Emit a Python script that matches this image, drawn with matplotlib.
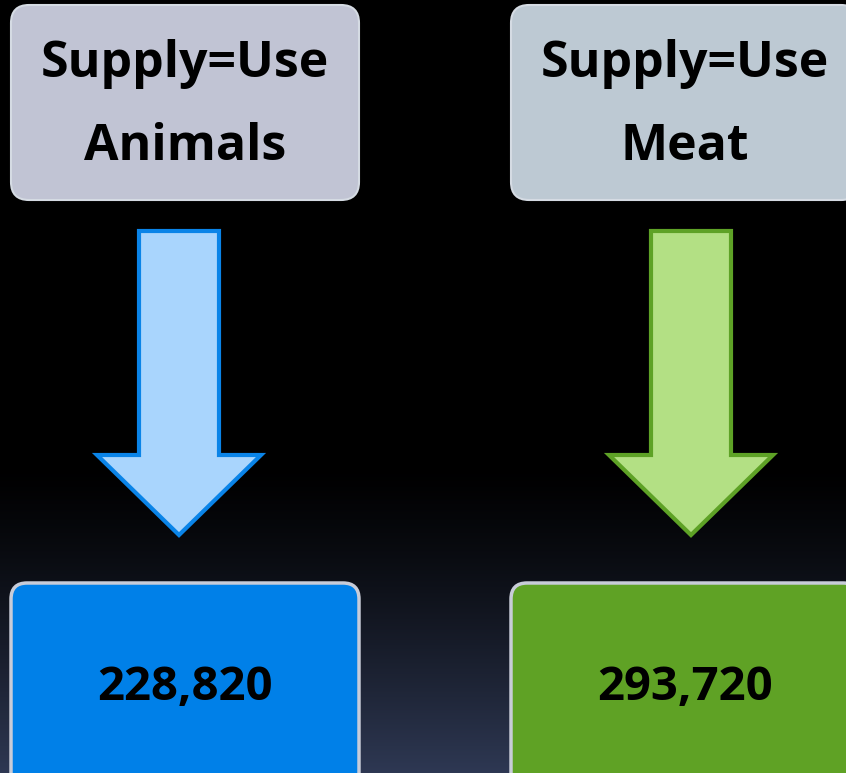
import matplotlib.pyplot as plt
from matplotlib.patches import FancyBboxPatch, Polygon
import numpy as np

title_top = ['Supply=Use', 'Supply=Use']
title_bottom = ['Animals', 'Meat']
totals = [228820, 293720]
head_colors = ['#c1c4d4', '#bdc9d3']
arrow_fill = ['#a9d5fd', '#b3e084']
arrow_edge = ['#0a84e8', '#5ea226']
total_colors = ['#0080e8', '#5fa225']

W, H = 846, 773
fig = plt.figure(figsize=(W / 100, H / 100), dpi=100)
ax = fig.add_axes([0, 0, 1, 1])
ax.set_xlim(0, W)
ax.set_ylim(H, 0)
ax.axis('off')

# background: black at top, fading to dark navy at the bottom
rows = np.linspace(0, 1, 400)
t = np.clip((rows - 0.6) / 0.4, 0, 1) ** 1.3
top = np.array([0, 0, 0])
bot = np.array([0x2e, 0x38, 0x53]) / 255
grad = top[None, :] * (1 - t[:, None]) + bot[None, :] * t[:, None]
ax.imshow(grad[:, None, :], extent=[0, W, H, 0], aspect='auto', zorder=0)

col_left = [11, 511]
text_cx = [185, 685]
arrow_cx = [179, 691]
box_w = 348
for i in range(2):
    x0 = col_left[i]
    # header box
    ax.add_patch(FancyBboxPatch((x0 + 18, 5 + 18), box_w - 36, 195 - 36,
                                boxstyle='round,pad=18', fc=head_colors[i],
                                ec='#d5dbe3', lw=1.5, zorder=2))
    ax.text(text_cx[i], 64, title_top[i], ha='center', va='center', fontsize=36,
            fontweight='bold', family='Open Sans', zorder=3)
    ax.text(text_cx[i], 147, title_bottom[i], ha='center', va='center', fontsize=36,
            fontweight='bold', family='Open Sans', zorder=3)
    # arrow
    cx = arrow_cx[i]
    sw, hw = 40, 82
    pts = [(cx - sw, 231), (cx + sw, 231), (cx + sw, 455), (cx + hw, 455),
           (cx, 535), (cx - hw, 455), (cx - sw, 455)]
    ax.add_patch(Polygon(pts, closed=True, fc=arrow_fill[i], ec=arrow_edge[i],
                         lw=3, joinstyle='miter', zorder=2))
    # total box
    ax.add_patch(FancyBboxPatch((x0 + 16, 583 + 16), box_w - 32, 240,
                                boxstyle='round,pad=16', fc=total_colors[i],
                                ec='#c8ccd8', lw=2.5, zorder=2))
    ax.text(text_cx[i], 687, f'{totals[i]:,}', ha='center', va='center',
            fontsize=34, fontweight='bold', family='Open Sans', zorder=3)

fig.savefig('out.png', dpi=100)
